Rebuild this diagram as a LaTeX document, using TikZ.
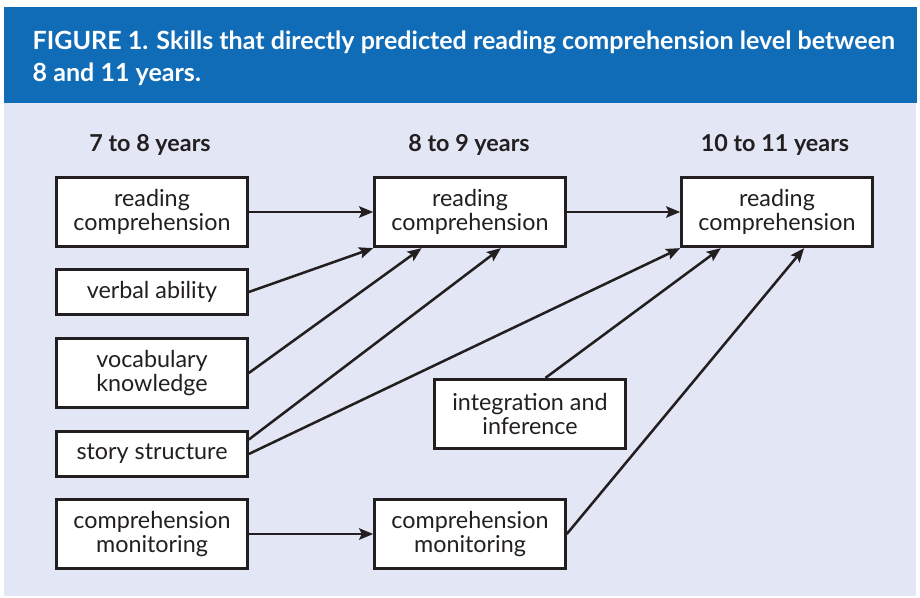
\documentclass[tikz,border=0pt]{standalone}
\usepackage{fontspec}
\setmainfont{Lato}
\usetikzlibrary{arrows.meta,calc}
\definecolor{bandblue}{RGB}{16,108,182}
\definecolor{panel}{RGB}{227,231,245}
\definecolor{ink}{RGB}{35,31,32}

\begin{document}
\begin{tikzpicture}[x=0.75pt,y=-0.75pt,
        skill/.style={draw=ink,line width=2.2pt,fill=white,text=ink,align=center,minimum width=143pt,inner sep=0pt,font=\fontsize{17.5}{18}\selectfont},
        tall/.style={skill,minimum height=52pt},
        short/.style={skill,minimum height=34pt},
        age/.style={anchor=base,text=ink,font=\bfseries\fontsize{17.5}{20}\selectfont},
        heading/.style={anchor=base west,text=white,font=\bfseries\fontsize{18.8}{24}\selectfont},
        link/.style={draw=ink,line width=1.9pt,-{Stealth[length=10.5pt,width=8.5pt,inset=2pt]}}]
        \useasboundingbox (0,0) rectangle (920,597);
        \fill[panel] (4,7) rectangle (916,596);
        \fill[bandblue] (4,7) rectangle (917,103);

        \node[heading] (head1) at (28,49) {FIGURE 1. Skills that directly predicted reading comprehension level between};
        \node[heading] (head2) at (28,81) {8 and 11 years.};

        \node[age] (age1) at (150,151) {7 to 8 years};
        \node[age] (age2) at (469,151) {8 to 9 years};
        \node[age] (age3) at (775,151) {10 to 11 years};

        \node[tall] (rc1) at (152,212) {reading\\comprehension};
        \node[short] (verbal) at (152,292) {verbal ability};
        \node[tall] (vocab) at (152,373) {vocabulary\\knowledge};
        \node[short] (story) at (152,454) {story structure};
        \node[tall] (cm1) at (152,534) {comprehension\\monitoring};

        \node[tall] (rc2) at (470,212) {reading\\comprehension};
        \node[tall] (cm2) at (470,534) {comprehension\\monitoring};

        \node[tall] (infer) at (530,414) {integration and\\inference};
        \node[tall] (rc3) at (777,212) {reading\\comprehension};

        \draw[link] (rc1) -- (rc2);
        \draw[link] (verbal.east) -- (rc2.south west);
        \draw[link] (vocab.east) -- ($(rc2.south west)!0.25!(rc2.south east)$);
        \draw[link] ($(story.north east)!0.2!(story.south east)$) -- ($(rc2.south west)!0.66!(rc2.south east)$);
        \draw[link] (story.east) -- (rc3.south west);
        \draw[link] (rc2) -- (rc3);
        \draw[link] ($(infer.north west)!0.58!(infer.north east)$) -- ($(rc3.south west)!0.21!(rc3.south east)$);
        \draw[link] (cm2.east) -- ($(rc3.south west)!0.64!(rc3.south east)$);
        \draw[link] (cm1) -- (cm2);
    \end{tikzpicture}
\end{document}
